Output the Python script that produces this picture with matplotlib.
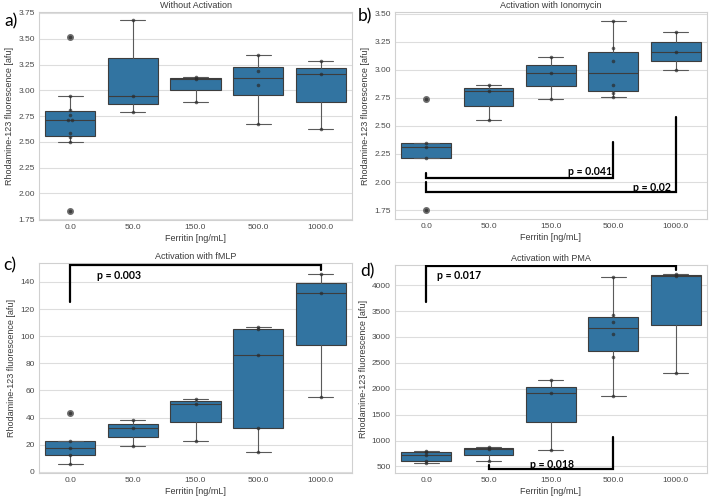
import matplotlib.pyplot as plt
import seaborn as sns

sns.set_style("whitegrid")
plt.rcParams['font.family'] = ['Liberation Sans', 'DejaVu Sans']

# Ferritin concentrations (x categories)
categories = ["0.0", "50.0", "150.0", "500.0", "1000.0"]

# Rhodamine-123 fluorescence per group
without_act = [
    [1.83, 2.50, 2.55, 2.59, 2.71, 2.71, 2.76, 2.81, 2.94, 3.52],
    [2.79, 2.94, 3.68],
    [2.89, 3.11, 3.13],
    [2.67, 3.05, 3.19, 3.34],
    [2.62, 3.16, 3.28],
]
ionomycin = [
    [1.75, 2.21, 2.31, 2.35, 2.74],
    [2.55, 2.81, 2.86],
    [2.74, 2.97, 3.11],
    [2.76, 2.79, 2.86, 3.08, 3.19, 3.43],
    [3.00, 3.16, 3.34],
]
fmlp = [
    [6.0, 12.0, 17.5, 22.5, 43.5],
    [19.0, 32.0, 38.0],
    [23.0, 50.0, 54.0],
    [14.5, 32.5, 86.0, 105.0, 106.5],
    [55.0, 132.0, 146.0],
]
pma = [
    [560, 600, 720, 785, 800],
    [600, 830, 870],
    [820, 1910, 2170],
    [1860, 2620, 3050, 3280, 3430, 4150],
    [2300, 4170, 4220],
]

titles = ["Without Activation", "Activation with Ionomycin",
          "Activation with fMLP", "Activation with PMA"]
panel_letters = ["a)", "b)", "c)", "d)"]
ylims = [(1.74, 3.76), (1.67, 3.515), (-1, 154), (371, 4390)]
yticks = [
    [1.75, 2.00, 2.25, 2.50, 2.75, 3.00, 3.25, 3.50, 3.75],
    [1.75, 2.00, 2.25, 2.50, 2.75, 3.00, 3.25, 3.50],
    [0, 20, 40, 60, 80, 100, 120, 140],
    [500, 1000, 1500, 2000, 2500, 3000, 3500, 4000],
]
ytick_fmt = ["{:.2f}", "{:.2f}", "{:.0f}", "{:.0f}"]

# significance brackets: (group_a, group_b, line_y, left_end_y, right_end_y, text, text_x, text_y)
brackets = [
    [],
    [(0, 3, 2.035, 2.08, 2.36, "p = 0.041", 2.27, 2.095),
     (0, 4, 1.91, 2.00, 2.577, "p = 0.02", 3.31, 1.955)],
    [(0, 4, 152.2, 125, 149, "p = 0.003", 0.43, 145)],
    [(0, 4, 4367, 3665, 4290, "p = 0.017", 0.17, 4190),
     (1, 3, 455, 520, 1074, "p = 0.018", 1.67, 545)],
]

datasets = [without_act, ionomycin, fmlp, pma]

axes_pos = [
    [0.055, 0.558, 0.4415, 0.418],
    [0.557, 0.560, 0.440, 0.416],
    [0.055, 0.050, 0.4415, 0.422],
    [0.557, 0.050, 0.440, 0.418],
]
letter_pos = [(0.006, 0.958), (0.505, 0.968), (0.004, 0.468), (0.508, 0.455)]

fig = plt.figure(figsize=(7.09, 4.98), dpi=100)
box_color = "#3274a1"
edge = "#3d3d3d"

for k in range(4):
    ax = fig.add_axes(axes_pos[k])
    data = datasets[k]
    pos = list(range(len(categories)))
    ax.boxplot(data, positions=pos, widths=0.8, patch_artist=True,
               boxprops=dict(facecolor=box_color, edgecolor=edge, linewidth=0.8),
               medianprops=dict(color=edge, linewidth=0.8),
               whiskerprops=dict(color="#5a5a5a", linewidth=0.8),
               capprops=dict(color="#5a5a5a", linewidth=0.8),
               flierprops=dict(marker="o", markerfacecolor="#6e6e6e",
                               markeredgecolor="#6e6e6e", markersize=4))
    # points (small swarm for duplicates)
    for i, vals in enumerate(data):
        seen = {}
        for v in vals:
            n = seen.get(v, 0)
            seen[v] = n + 1
            dx = 0.0 if vals.count(v) == 1 else (-0.035 + 0.07 * n)
            ax.plot(i + dx, v, "o", color="#2a2a2a", alpha=0.7,
                    markersize=2.6, markeredgewidth=0, zorder=4)
    for (g1, g2, y, y1, y2, txt, tx, ty) in brackets[k]:
        ax.plot([g1, g1, g2, g2], [y1, y, y, y2], color="black",
                lw=1.6, zorder=5, solid_joinstyle="miter")
        ax.text(tx, ty, txt, fontsize=7.6, fontweight="bold",
                family=["Lato", "DejaVu Sans"], color="black",
                va="center", ha="left", zorder=6)
    ax.set_xlim(-0.5, 4.5)
    ax.set_ylim(*ylims[k])
    ax.set_xticks(pos)
    ax.set_xticklabels(categories)
    ax.set_yticks(yticks[k])
    ax.set_yticklabels([ytick_fmt[k].format(t) for t in yticks[k]])
    ax.tick_params(labelsize=6, colors="#4a4a4a", pad=3, length=0)
    ax.grid(axis="x", visible=False)
    ax.grid(axis="y", color="#dddddd", linewidth=0.8)
    for s in ax.spines.values():
        s.set_color("#d0d0d0")
        s.set_linewidth(0.8)
    ax.set_title(titles[k], fontsize=6.5, color="#3a3a3a", pad=3)
    ax.set_xlabel("Ferritin [ng/mL]", fontsize=6.5, color="#3a3a3a", labelpad=2)
    ax.set_ylabel("Rhodamine-123 fluorescence [afu]", fontsize=6.5,
                  color="#3a3a3a", labelpad=3)
    fig.text(letter_pos[k][0], letter_pos[k][1], panel_letters[k],
             fontsize=12.5, family=["Lato", "DejaVu Sans"], color="black",
             va="center", ha="left")

fig.savefig("out.png", dpi=100)
